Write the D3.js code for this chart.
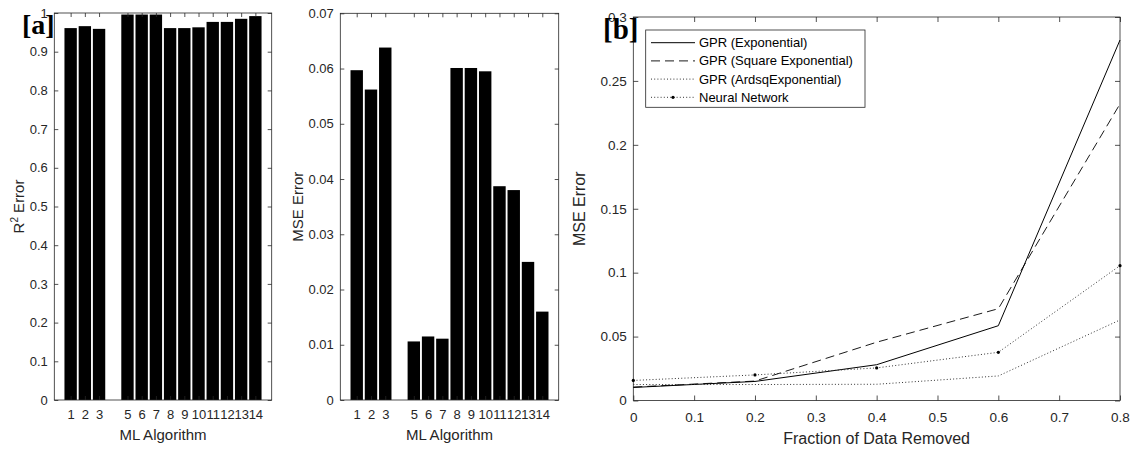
<!DOCTYPE html>
<html><head><meta charset="utf-8">
<script src="https://cdn.jsdelivr.net/npm/d3@7"></script>
<style>
body{margin:0;background:#fff;}
svg{display:block;font-family:"Liberation Sans",Arial,Helvetica,sans-serif;}
</style></head>
<body><svg id="c" width="1131" height="450"></svg>
<script>
// ---- data ----
const algorithms = [1,2,3,5,6,7,8,9,10,11,12,13,14];
const r2Values   = [0.961,0.966,0.959,0.996,0.996,0.996,0.961,0.961,0.963,0.977,0.977,0.985,0.992];
const mseValues  = [0.0597,0.0562,0.0638,0.0106,0.0115,0.0111,0.0601,0.0601,0.0595,0.0387,0.0380,0.0250,0.0160];
const r2Ticks  = [0,0.1,0.2,0.3,0.4,0.5,0.6,0.7,0.8,0.9,1];
const mseTicks = [0,0.01,0.02,0.03,0.04,0.05,0.06,0.07];

const fractions = [0,0.2,0.4,0.6,0.8];
const gprExponential = [0.0102,0.0149,0.0280,0.0585,0.2820];
const gprSquareExp   = [0.0105,0.0152,0.0456,0.0718,0.2320];
const gprArdsq       = [0.0125,0.0125,0.0127,0.0192,0.0630];
const neuralNetwork  = [0.0157,0.0200,0.0255,0.0377,0.1055];
const fracTicks = [0,0.1,0.2,0.3,0.4,0.5,0.6,0.7,0.8];
const bMseTicks = [0,0.05,0.1,0.15,0.2,0.25,0.3];
const seriesNames = ["GPR (Exponential)","GPR (Square Exponential)","GPR (ArdsqExponential)","Neural Network"];

const svg = d3.select("#c");
const AX = "#262626";

function styleAxis(g, fs){
  g.select(".domain").remove();
  g.selectAll("line").attr("stroke",AX).attr("stroke-width",0.8);
  g.selectAll("text").attr("fill",AX).attr("font-size",fs).attr("font-family","Liberation Sans, Arial, sans-serif");
}

function barPanel(cfg){
  const x = d3.scaleLinear().domain([-0.15,15.15]).range([cfg.left,cfg.right]);
  const y = d3.scaleLinear().domain(cfg.ydom).range([cfg.bottom,cfg.top]);
  const bw = x(0.87)-x(0);
  svg.append("g").selectAll("rect").data(cfg.values).join("rect")
    .attr("x",(d,i)=>x(algorithms[i])-bw/2)
    .attr("y",d=>y(d))
    .attr("width",bw)
    .attr("height",d=>y(cfg.ydom[0])-y(d))
    .attr("fill","#000");
  const ts = 4, fs = 13;
  const fmt = d=>d3.format("~g")(d);
  styleAxis(svg.append("g").attr("transform",`translate(0,${cfg.bottom})`)
    .call(d3.axisBottom(x).tickValues(algorithms).tickSize(-ts).tickPadding(9.5).tickFormat(d3.format("d"))), fs);
  styleAxis(svg.append("g").attr("transform",`translate(0,${cfg.top})`)
    .call(d3.axisTop(x).tickValues(algorithms).tickSize(-ts).tickFormat("")), fs);
  styleAxis(svg.append("g").attr("transform",`translate(${cfg.left},0)`)
    .call(d3.axisLeft(y).tickValues(cfg.yticks).tickSize(-ts).tickPadding(6.5).tickFormat(fmt)), fs);
  styleAxis(svg.append("g").attr("transform",`translate(${cfg.right},0)`)
    .call(d3.axisRight(y).tickValues(cfg.yticks).tickSize(-ts).tickFormat("")), fs);
  svg.append("rect").attr("x",cfg.left).attr("y",cfg.top).attr("width",cfg.right-cfg.left)
    .attr("height",cfg.bottom-cfg.top).attr("fill","none").attr("stroke",AX).attr("stroke-width",0.8);
  svg.append("text").attr("x",(cfg.left+cfg.right)/2).attr("y",440).attr("text-anchor","middle")
    .attr("font-size",15).attr("fill",AX).text("ML Algorithm");
  const yl = svg.append("text").attr("transform",`translate(${cfg.ylabX},${(cfg.top+cfg.bottom)/2}) rotate(-90)`)
    .attr("text-anchor","middle").attr("font-size",15).attr("fill",AX);
  cfg.ylab(yl);
}

barPanel({left:54.3,right:271.7,top:13,bottom:400,ydom:[0,1],yticks:r2Ticks,values:r2Values,ylabX:24,
  ylab:t=>{t.append("tspan").text("R");t.append("tspan").attr("font-size",10).attr("dy",-6).text("2");t.append("tspan").attr("dy",6).text(" Error");}});
barPanel({left:340.3,right:558.7,top:13.3,bottom:400,ydom:[0,0.07],yticks:mseTicks,values:mseValues,ylabX:302.7,
  ylab:t=>t.text("MSE Error")});

// ---- panel b ----
const bl=633.3, br=1120, bt=17, bb=400.5;
const xb = d3.scaleLinear().domain([0,0.8]).range([bl,br]);
const yb = d3.scaleLinear().domain([0,0.3]).range([bb,bt]);
const tsb=5, fsb=13.5;
styleAxis(svg.append("g").attr("transform",`translate(0,${bb})`)
  .call(d3.axisBottom(xb).tickValues(fracTicks).tickSize(-tsb).tickPadding(12).tickFormat(d3.format("~g"))), fsb);
styleAxis(svg.append("g").attr("transform",`translate(0,${bt})`)
  .call(d3.axisTop(xb).tickValues(fracTicks).tickSize(-tsb).tickFormat("")), fsb);
styleAxis(svg.append("g").attr("transform",`translate(${bl},0)`)
  .call(d3.axisLeft(yb).tickValues(bMseTicks).tickSize(-tsb).tickPadding(6.5).tickFormat(d3.format("~g"))), fsb);
styleAxis(svg.append("g").attr("transform",`translate(${br},0)`)
  .call(d3.axisRight(yb).tickValues(bMseTicks).tickSize(-tsb).tickFormat("")), fsb);
svg.append("rect").attr("x",bl).attr("y",bt).attr("width",br-bl).attr("height",bb-bt)
  .attr("fill","none").attr("stroke",AX).attr("stroke-width",0.8);

const line = d3.line().x((d,i)=>xb(fractions[i])).y(d=>yb(d));
const styles = [
  {data:gprExponential,dash:null,color:"#000",w:1},
  {data:gprSquareExp,dash:"9,5",color:"#000",w:0.9},
  {data:gprArdsq,dash:"1,2.2",color:"#333",w:1},
  {data:neuralNetwork,dash:"1,2.2",color:"#333",w:1,marker:true}
];
styles.forEach(s=>{
  svg.append("path").attr("d",line(s.data)).attr("fill","none").attr("stroke",s.color)
    .attr("stroke-width",s.w).attr("stroke-dasharray",s.dash);
  if(s.marker){
    svg.append("g").selectAll("circle").data(s.data).join("circle")
      .attr("cx",(d,i)=>xb(fractions[i])).attr("cy",d=>yb(d)).attr("r",1.6).attr("fill","#000");
  }
});

svg.append("text").attr("x",(bl+br)/2).attr("y",444).attr("text-anchor","middle")
  .attr("font-size",16).attr("fill",AX).text("Fraction of Data Removed");
svg.append("text").attr("transform",`translate(585,${(bt+bb)/2}) rotate(-90)`)
  .attr("text-anchor","middle").attr("font-size",16).attr("fill",AX).text("MSE Error");

// legend
const lg = svg.append("g");
lg.append("rect").attr("x",645.7).attr("y",30).attr("width",219.3).attr("height",77.3)
  .attr("fill","#fff").attr("stroke",AX).attr("stroke-width",0.8);
seriesNames.forEach((n,i)=>{
  const yy = 42.7 + i*18.2;
  const s = styles[i];
  lg.append("line").attr("x1",651).attr("x2",695).attr("y1",yy).attr("y2",yy)
    .attr("stroke",s.color).attr("stroke-width",s.w).attr("stroke-dasharray",s.dash);
  if(s.marker) lg.append("circle").attr("cx",673).attr("cy",yy).attr("r",1.6).attr("fill","#000");
  lg.append("text").attr("x",699).attr("y",yy).attr("dy","0.35em").attr("font-size",13)
    .attr("fill","#000").text(n);
});

// panel tags
svg.append("text").attr("x",22).attr("y",34).attr("font-family","Liberation Serif, Times New Roman, serif")
  .attr("font-weight","bold").attr("font-size",28).attr("fill","#000").text("[a]");
svg.append("text").attr("x",603).attr("y",39).attr("font-family","Liberation Serif, Times New Roman, serif")
  .attr("font-weight","bold").attr("font-size",29).attr("fill","#000").text("[b]");
</script></body></html>
